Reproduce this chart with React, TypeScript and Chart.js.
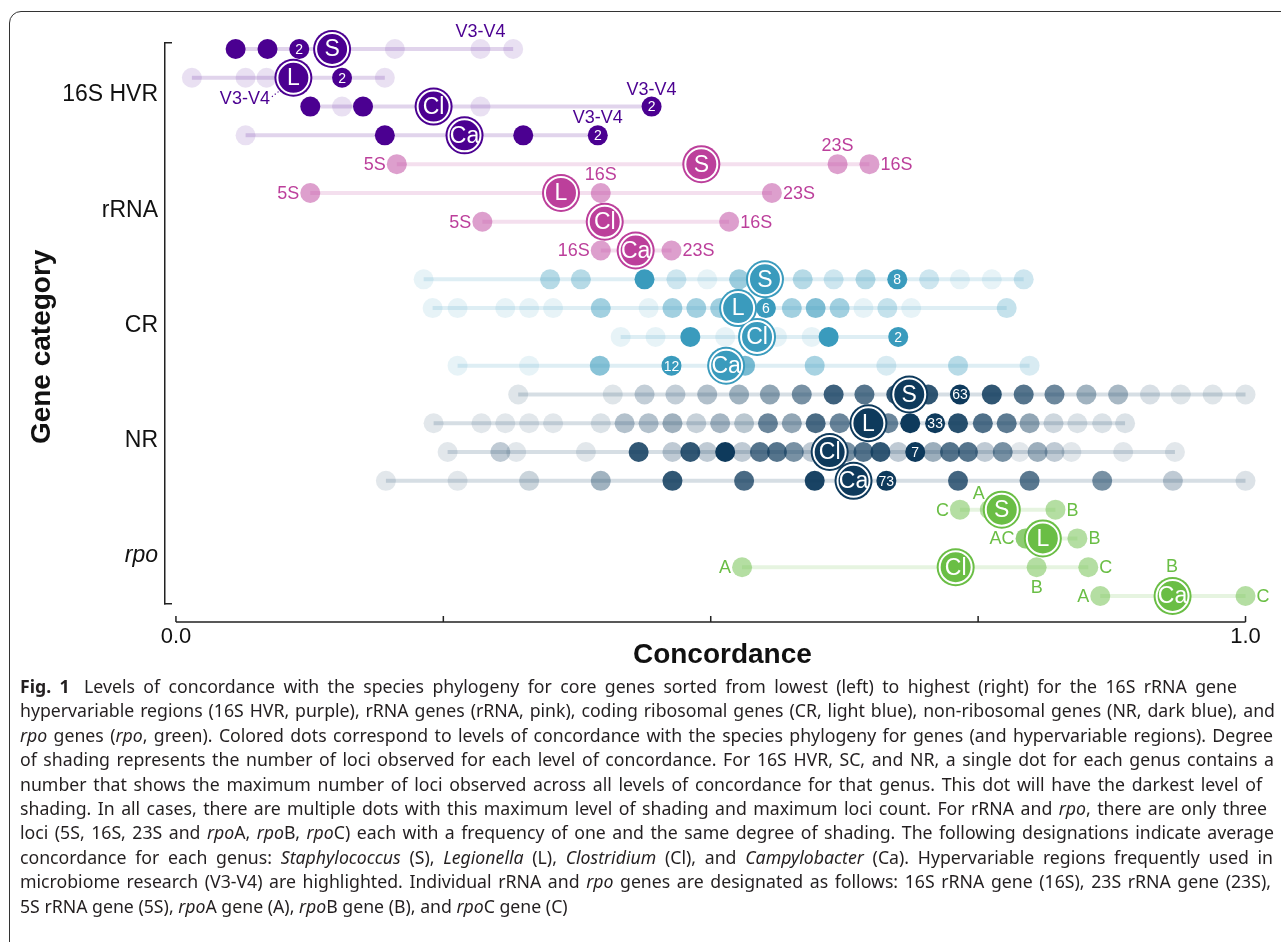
import React, { useEffect, useRef } from 'react';
import { Chart, registerables } from 'chart.js';

Chart.register(...registerables);

const FONT = "'Liberation Sans', Arial, Helvetica, sans-serif";

const categories = ['16S HVR', 'rRNA', 'CR', 'NR', 'rpo'];
const genera = ['S', 'L', 'Cl', 'Ca'];
const categoryColors = ['75,0,145', '188,63,155', '58,155,189', '14,58,92', '106,190,69'];

// x-axis ticks
const xTickValues = [0, 0.25, 0.5, 0.75, 1];
const xTickLabels = ['0.0', '', '', '', '1.0'];

// ---- 16S HVR (concordance levels, number of loci per level) ----
const hvrS = [0.0558, 0.0856, 0.1153, 0.2047, 0.2847, 0.3153];
const hvrSn = [2, 2, 2, 1, 1, 1];
const hvrL = [0.0149, 0.0651, 0.0847, 0.1553, 0.1953];
const hvrLn = [1, 1, 1, 2, 1];
const hvrCl = [0.1256, 0.1553, 0.1749, 0.2847, 0.4447];
const hvrCln = [2, 1, 2, 1, 2];
const hvrCa = [0.0651, 0.1953, 0.3247, 0.3944];
const hvrCan = [1, 2, 2, 2];
const hvrMeans = [0.146, 0.1098, 0.2409, 0.2698];
const hvrMaxDot = [2, 3, 4, 3];
const hvrV34 = [0.2847, 0.1, 0.4447, 0.3944];
const hvrV34Side = ['above', 'belowLeft', 'above', 'above'];

// ---- rRNA ----
const rrnaS = [0.2065, 0.6186, 0.6484];
const rrnaSGenes = ['5S', '23S', '16S'];
const rrnaSSide = ['left', 'above', 'right'];
const rrnaL = [0.1256, 0.3972, 0.5572];
const rrnaLGenes = ['5S', '16S', '23S'];
const rrnaLSide = ['left', 'above', 'right'];
const rrnaCl = [0.2865, 0.4, 0.5172];
const rrnaClGenes = ['5S', '23S', '16S'];
const rrnaClSide = ['left', 'hidden', 'right'];
const rrnaCa = [0.3972, 0.4298, 0.4633];
const rrnaCaGenes = ['16S', '5S', '23S'];
const rrnaCaSide = ['left', 'hidden', 'right'];
const rrnaMeans = [0.4912, 0.36, 0.4009, 0.4298];

// ---- CR ----
const crS = [0.2316, 0.3498, 0.3786, 0.4381, 0.4679, 0.4967, 0.5265, 0.586, 0.6149, 0.6447, 0.6744, 0.7042, 0.733, 0.7628, 0.7926];
const crSn = [1, 3, 3, 8, 2, 1, 4, 3, 2, 3, 8, 2, 1, 1, 2];
const crL = [0.24, 0.2633, 0.3079, 0.3302, 0.3526, 0.3972, 0.4419, 0.4642, 0.4865, 0.5088, 0.5516, 0.5758, 0.5981, 0.6205, 0.6428, 0.6651, 0.6874, 0.7767];
const crLn = [1, 1, 1, 1, 1, 3, 1, 3, 3, 3, 6, 3, 4, 3, 1, 2, 1, 2];
const crCl = [0.4158, 0.4484, 0.4809, 0.5135, 0.5619, 0.5944, 0.6102, 0.6753];
const crCln = [1, 1, 2, 1, 1, 1, 2, 2];
const crCa = [0.2633, 0.3302, 0.3963, 0.4633, 0.5321, 0.5972, 0.6642, 0.7312, 0.7981];
const crCan = [1, 1, 7, 12, 8, 5, 2, 4, 2];
const crMeans = [0.5507, 0.5256, 0.5433, 0.5144];
const crMaxDot = [10, 10, 7, 3];

// ---- NR ----
const nrS = [0.32, 0.4084, 0.4381, 0.467, 0.4967, 0.5265, 0.5553, 0.5851, 0.6149, 0.6437, 0.6735, 0.7033, 0.733, 0.7628, 0.7926, 0.8214, 0.8512, 0.8809, 0.9107, 0.9395, 0.9693, 1.0];
const nrSn = [2, 2, 10, 10, 15, 20, 25, 32, 49, 42, 53, 53, 63, 53, 42, 35, 20, 18, 4, 2, 2, 2];
const nrL = [0.2409, 0.2856, 0.3079, 0.3302, 0.3526, 0.3972, 0.4195, 0.4419, 0.4642, 0.4865, 0.5088, 0.5312, 0.5535, 0.5758, 0.5981, 0.6205, 0.666, 0.6865, 0.7098, 0.7312, 0.7544, 0.7767, 0.7981, 0.8205, 0.8428, 0.866, 0.8874];
const nrLn = [1, 1, 1, 1, 1, 2, 8, 8, 11, 5, 10, 7, 19, 13, 24, 19, 19, 33, 33, 29, 23, 21, 13, 4, 2, 2, 2];
const nrCl = [0.254, 0.3033, 0.3181, 0.3833, 0.4326, 0.4642, 0.4809, 0.4967, 0.5135, 0.5293, 0.546, 0.5619, 0.5777, 0.5944, 0.627, 0.6428, 0.6586, 0.6753, 0.6912, 0.7079, 0.7237, 0.7405, 0.7563, 0.773, 0.7888, 0.8056, 0.8214, 0.8372, 0.8856, 0.934];
const nrCln = [1, 2, 1, 1, 6, 2, 6, 2, 7, 2, 5, 5, 4, 2, 4, 5, 6, 2, 7, 3, 5, 5, 2, 4, 1, 3, 2, 1, 1, 1];
const nrCa = [0.1963, 0.2633, 0.3302, 0.3972, 0.4642, 0.5312, 0.5972, 0.6642, 0.7312, 0.7981, 0.866, 0.9321, 1.0];
const nrCan = [1, 1, 9, 23, 61, 53, 69, 73, 55, 47, 37, 13, 3];
const nrMeans = [0.6856, 0.6474, 0.6112, 0.6335];
const nrMaxDot = [12, 18, 18, 7];

// ---- rpo ----
const rpoS = [0.733, 0.7609, 0.8223];
const rpoSGenes = ['C', 'A', 'B'];
const rpoSSide = ['left', 'aboveLeft', 'right'];
const rpoL = [0.7944, 0.7944, 0.8428];
const rpoLGenes = ['A', 'C', 'B'];
const rpoLSide = ['leftJoin', 'hidden', 'right'];
const rpoCl = [0.5293, 0.8047, 0.853];
const rpoClGenes = ['A', 'B', 'C'];
const rpoClSide = ['left', 'below', 'right'];
const rpoCa = [0.8642, 0.9312, 1.0];
const rpoCaGenes = ['A', 'B', 'C'];
const rpoCaSide = ['left', 'aboveCircle', 'right'];
const rpoMeans = [0.7721, 0.8105, 0.729, 0.9318];

type Row = {
  cat: number;
  xs: number[];
  n?: number[];
  numIdx?: number;
  genes?: string[];
  sides?: string[];
  v34?: number;
  v34Side?: string;
};

const rows: Row[] = [
  { cat: 0, xs: hvrS, n: hvrSn, numIdx: hvrMaxDot[0], v34: hvrV34[0], v34Side: hvrV34Side[0] },
  { cat: 0, xs: hvrL, n: hvrLn, numIdx: hvrMaxDot[1], v34: hvrV34[1], v34Side: hvrV34Side[1] },
  { cat: 0, xs: hvrCl, n: hvrCln, numIdx: hvrMaxDot[2], v34: hvrV34[2], v34Side: hvrV34Side[2] },
  { cat: 0, xs: hvrCa, n: hvrCan, numIdx: hvrMaxDot[3], v34: hvrV34[3], v34Side: hvrV34Side[3] },
  { cat: 1, xs: rrnaS, genes: rrnaSGenes, sides: rrnaSSide },
  { cat: 1, xs: rrnaL, genes: rrnaLGenes, sides: rrnaLSide },
  { cat: 1, xs: rrnaCl, genes: rrnaClGenes, sides: rrnaClSide },
  { cat: 1, xs: rrnaCa, genes: rrnaCaGenes, sides: rrnaCaSide },
  { cat: 2, xs: crS, n: crSn, numIdx: crMaxDot[0] },
  { cat: 2, xs: crL, n: crLn, numIdx: crMaxDot[1] },
  { cat: 2, xs: crCl, n: crCln, numIdx: crMaxDot[2] },
  { cat: 2, xs: crCa, n: crCan, numIdx: crMaxDot[3] },
  { cat: 3, xs: nrS, n: nrSn, numIdx: nrMaxDot[0] },
  { cat: 3, xs: nrL, n: nrLn, numIdx: nrMaxDot[1] },
  { cat: 3, xs: nrCl, n: nrCln, numIdx: nrMaxDot[2] },
  { cat: 3, xs: nrCa, n: nrCan, numIdx: nrMaxDot[3] },
  { cat: 4, xs: rpoS, genes: rpoSGenes, sides: rpoSSide },
  { cat: 4, xs: rpoL, genes: rpoLGenes, sides: rpoLSide },
  { cat: 4, xs: rpoCl, genes: rpoClGenes, sides: rpoClSide },
  { cat: 4, xs: rpoCa, genes: rpoCaGenes, sides: rpoCaSide },
];

const means = [...hvrMeans, ...rrnaMeans, ...crMeans, ...nrMeans, ...rpoMeans];

// y axis: row index scale
const Y_MIN = -0.2084;
const Y_MAX = 19.278;
const yTickValues = [Y_MIN, 1.6, 5.6, 9.6, 13.6, 17.6, Y_MAX];
const yTickLabels = ['', ...categories, ''];

const rgba = (c: string, a: number) => `rgba(${c},${a})`;

function dotAlpha(row: Row, i: number) {
  if (!row.n) return 0.5;
  const max = Math.max(...row.n);
  if (max <= 1) return 0.5;
  return 0.12 + 0.88 * (row.n[i] - 1) / (max - 1);
}

function buildDatasets() {
  const ds: any[] = [];
  rows.forEach((r, i) => {
    const col = categoryColors[r.cat];
    ds.push({
      type: 'line',
      data: [{ x: Math.min(...r.xs), y: i }, { x: Math.max(...r.xs), y: i }],
      borderColor: rgba(col, 0.17),
      borderWidth: 4,
      pointRadius: 0,
      pointHoverRadius: 0,
      fill: false,
      order: 4,
      clip: false,
    });
  });
  rows.forEach((r, i) => {
    const col = categoryColors[r.cat];
    ds.push({
      type: 'scatter',
      data: r.xs.map((x) => ({ x, y: i })),
      pointBackgroundColor: r.xs.map((_, k) => rgba(col, dotAlpha(r, k))),
      pointBorderWidth: 0,
      pointRadius: 10,
      pointHoverRadius: 10,
      order: 3,
      clip: false,
    });
  });
  const meanColors = means.map((_, i) => rgba(categoryColors[rows[i].cat], 1));
  ds.push({
    type: 'scatter',
    data: means.map((m, i) => ({ x: m, y: i })),
    pointBackgroundColor: meanColors,
    pointBorderWidth: 0,
    pointRadius: 19,
    pointHoverRadius: 19,
    order: 2,
    clip: false,
  });
  ds.push({
    type: 'scatter',
    data: means.map((m, i) => ({ x: m, y: i })),
    pointBackgroundColor: meanColors,
    pointBorderColor: '#ffffff',
    pointBorderWidth: 2,
    pointRadius: 16,
    pointHoverRadius: 16,
    order: 1,
    clip: false,
  });
  return ds;
}

const xAxisLinePlugin = {
  id: 'xAxisLine',
  afterDraw(chart: any) {
    const { ctx, chartArea, scales } = chart;
    const x = scales.x;
    const yy = chartArea.bottom + 18;
    ctx.save();
    ctx.strokeStyle = '#222';
    ctx.lineWidth = 1.5;
    ctx.beginPath();
    ctx.moveTo(x.getPixelForValue(xTickValues[0]), yy);
    ctx.lineTo(x.getPixelForValue(xTickValues[xTickValues.length - 1]), yy);
    xTickValues.forEach((v) => {
      const px = x.getPixelForValue(v);
      ctx.moveTo(px, yy);
      ctx.lineTo(px, yy - 6);
    });
    ctx.stroke();
    ctx.restore();
  },
};

const textPlugin = {
  id: 'rowText',
  afterDatasetsDraw(chart: any) {
    const { ctx, scales } = chart;
    const x = scales.x;
    const y = scales.y;
    ctx.save();
    ctx.textBaseline = 'middle';
    rows.forEach((r, i) => {
      const py = y.getPixelForValue(i);
      const col = rgba(categoryColors[r.cat], 1);
      if (r.n && r.numIdx !== undefined) {
        ctx.fillStyle = '#fff';
        ctx.font = `14px ${FONT}`;
        ctx.textAlign = 'center';
        ctx.fillText(String(Math.max(...r.n)), x.getPixelForValue(r.xs[r.numIdx]), py + 1);
      }
      if (r.v34 !== undefined) {
        const px = x.getPixelForValue(r.v34);
        ctx.fillStyle = col;
        ctx.font = `18px ${FONT}`;
        if (r.v34Side === 'belowLeft') {
          ctx.textAlign = 'right';
          ctx.fillText('V3-V4', px - 13, py + 21);
          ctx.strokeStyle = col;
          ctx.lineWidth = 1.2;
          ctx.setLineDash([1.2, 2.4]);
          ctx.beginPath();
          ctx.moveTo(px - 11, py + 19);
          ctx.lineTo(px - 2, py + 12);
          ctx.stroke();
          ctx.setLineDash([]);
        } else {
          ctx.textAlign = 'center';
          ctx.fillText('V3-V4', px, py - 17);
        }
      }
      if (r.genes && r.sides) {
        ctx.fillStyle = col;
        ctx.font = `18px ${FONT}`;
        r.xs.forEach((v, k) => {
          const side = r.sides![k];
          const px = x.getPixelForValue(v);
          const g = r.genes![k];
          if (side === 'left') {
            ctx.textAlign = 'right';
            ctx.fillText(g, px - 11, py + 1);
          } else if (side === 'leftJoin') {
            ctx.textAlign = 'right';
            ctx.fillText(g + r.genes![k + 1], px - 11, py + 1);
          } else if (side === 'right') {
            ctx.textAlign = 'left';
            ctx.fillText(g, px + 11, py + 1);
          } else if (side === 'above') {
            ctx.textAlign = 'center';
            ctx.fillText(g, px, py - 18);
          } else if (side === 'below') {
            ctx.textAlign = 'center';
            ctx.fillText(g, px, py + 21);
          } else if (side === 'aboveLeft') {
            ctx.textAlign = 'center';
            ctx.fillText(g, px - 11, py - 16);
          } else if (side === 'aboveCircle') {
            ctx.textAlign = 'center';
            ctx.fillText(g, px, py - 29);
          }
        });
      }
    });
    ctx.fillStyle = '#fff';
    ctx.font = `23px ${FONT}`;
    ctx.textAlign = 'center';
    means.forEach((m, i) => {
      ctx.fillText(genera[i % 4], x.getPixelForValue(m), y.getPixelForValue(i) + 1);
    });
    ctx.restore();
  },
};

const captionRight = [1237, 1275, 1273, 1274, 1262, 1267, 1274, 1273, 1271, 0];

export default function App() {
  const ref = useRef<HTMLCanvasElement>(null);

  useEffect(() => {
    const canvas = ref.current;
    if (!canvas) return;
    const chart = new Chart(canvas, {
      type: 'scatter',
      data: { datasets: buildDatasets() },
      options: {
        responsive: false,
        animation: false,
        devicePixelRatio: 1,
        events: [],
        layout: { padding: { left: 0, top: 43, right: 19, bottom: 0 } },
        plugins: { legend: { display: false }, tooltip: { enabled: false } },
        scales: {
          x: {
            type: 'linear',
            position: 'bottom',
            min: -11 / 1075,
            max: 1 + 11 / 1075,
            bounds: 'data',
            afterBuildTicks: (s: any) => {
              s.ticks = xTickValues.map((v) => ({ value: v }));
            },
            afterFit: (s: any) => {
              s.height = 76;
            },
            border: { display: false },
            grid: { display: false, drawTicks: false },
            ticks: {
              autoSkip: false,
              maxRotation: 0,
              padding: 20,
              color: '#111',
              font: { family: FONT, size: 22 },
              callback: (_v: any, idx: number) => xTickLabels[idx],
            },
            title: {
              display: true,
              text: '   Concordance',
              color: '#111',
              font: { family: FONT, size: 28, weight: 'bold' },
              padding: { top: 0, bottom: 8 },
            },
          },
          y: {
            type: 'linear',
            reverse: true,
            min: Y_MIN,
            max: Y_MAX,
            bounds: 'data',
            afterBuildTicks: (s: any) => {
              s.ticks = yTickValues.map((v) => ({ value: v }));
            },
            afterFit: (s: any) => {
              s.width = 165;
            },
            border: { display: true, color: '#222', width: 1.5 },
            grid: {
              drawOnChartArea: false,
              drawTicks: true,
              tickLength: -7,
              lineWidth: 1.5,
              color: (c: any) => (c.index === 0 || c.index === yTickValues.length - 1 ? '#222' : 'rgba(0,0,0,0)'),
            },
            ticks: {
              autoSkip: false,
              padding: 14,
              color: '#111',
              font: (c: any) => ({ family: FONT, size: 23, style: c.index === 5 ? 'italic' : 'normal' }),
              callback: (_v: any, idx: number) => yTickLabels[idx],
            },
            title: {
              display: true,
              text: 'Gene category      ',
              color: '#111',
              font: { family: FONT, size: 28, weight: 'bold' },
              padding: { top: 25, bottom: 0 },
            },
          },
        },
      } as any,
      plugins: [xAxisLinePlugin, textPlugin],
    });
    return () => chart.destroy();
  }, []);

  const line = (i: number): React.CSSProperties =>
    captionRight[i] > 0
      ? {
          whiteSpace: 'nowrap',
          height: 24.4,
          width: captionRight[i] - 20,
          textAlign: 'justify',
          textAlignLast: 'justify',
        }
      : { whiteSpace: 'nowrap', height: 24.4 };

  return (
    <div style={{ position: 'fixed', inset: 0, overflow: 'hidden', background: '#fff' }}>
      <div
        style={{
          position: 'absolute',
          left: 9,
          top: 11,
          width: 1320,
          height: 1000,
          border: '1px solid #333',
          borderRadius: 12,
          boxSizing: 'border-box',
        }}
      />
      <canvas ref={ref} width={1281} height={680} style={{ position: 'absolute', left: 0, top: 0, width: 1281, height: 680 }} />
      <div
        style={{
          position: 'absolute',
          left: 20,
          top: 674,
          fontFamily: "'Noto Sans', 'Open Sans', sans-serif",
          fontSize: 17.7,
          lineHeight: '24.4px',
          color: '#231f20',
        }}
      >
        <div style={line(0)}><b style={{ marginRight: 6 }}>Fig. 1</b> Levels of concordance with the species phylogeny for core genes sorted from lowest (left) to highest (right) for the 16S rRNA gene</div>
        <div style={line(1)}>hypervariable regions (16S HVR, purple), rRNA genes (rRNA, pink), coding ribosomal genes (CR, light blue), non-ribosomal genes (NR, dark blue), and</div>
        <div style={line(2)}><i>rpo</i> genes (<i>rpo</i>, green). Colored dots correspond to levels of concordance with the species phylogeny for genes (and hypervariable regions). Degree</div>
        <div style={line(3)}>of shading represents the number of loci observed for each level of concordance. For 16S HVR, SC, and NR, a single dot for each genus contains a</div>
        <div style={line(4)}>number that shows the maximum number of loci observed across all levels of concordance for that genus. This dot will have the darkest level of</div>
        <div style={line(5)}>shading. In all cases, there are multiple dots with this maximum level of shading and maximum loci count. For rRNA and <i>rpo</i>, there are only three</div>
        <div style={line(6)}>loci (5S, 16S, 23S and <i>rpo</i>A, <i>rpo</i>B, <i>rpo</i>C) each with a frequency of one and the same degree of shading. The following designations indicate average</div>
        <div style={line(7)}>concordance for each genus: <i>Staphylococcus</i> (S), <i>Legionella</i> (L), <i>Clostridium</i> (Cl), and <i>Campylobacter</i> (Ca). Hypervariable regions frequently used in</div>
        <div style={line(8)}>microbiome research (V3-V4) are highlighted. Individual rRNA and <i>rpo</i> genes are designated as follows: 16S rRNA gene (16S), 23S rRNA gene (23S),</div>
        <div style={line(9)}>5S rRNA gene (5S), <i>rpo</i>A gene (A), <i>rpo</i>B gene (B), and <i>rpo</i>C gene (C)</div>
      </div>
    </div>
  );
}
